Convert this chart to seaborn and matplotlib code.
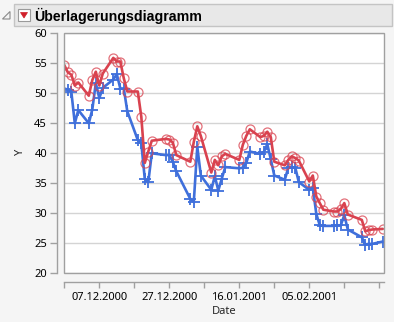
import matplotlib
matplotlib.use("Agg")
import matplotlib.pyplot as plt
from matplotlib.patches import Rectangle, Polygon
import pandas as pd
import seaborn as sns

# ---- data ----
dates = [
    "27.11.2000", "28.11.2000", "29.11.2000", "30.11.2000", "01.12.2000",
    "04.12.2000", "05.12.2000", "06.12.2000", "07.12.2000", "08.12.2000",
    "11.12.2000", "12.12.2000", "13.12.2000", "14.12.2000", "15.12.2000",
    "18.12.2000", "19.12.2000", "20.12.2000", "21.12.2000", "22.12.2000",
    "26.12.2000", "27.12.2000", "28.12.2000", "29.12.2000",
    "02.01.2001", "03.01.2001", "04.01.2001", "05.01.2001",
    "08.01.2001", "09.01.2001", "10.01.2001", "11.01.2001", "12.01.2001",
    "16.01.2001", "17.01.2001", "18.01.2001", "19.01.2001",
    "22.01.2001", "23.01.2001", "24.01.2001", "25.01.2001", "26.01.2001",
    "29.01.2001", "30.01.2001", "31.01.2001", "01.02.2001", "02.02.2001",
    "05.02.2001", "06.02.2001", "07.02.2001", "08.02.2001", "09.02.2001",
    "12.02.2001", "13.02.2001", "14.02.2001", "15.02.2001", "16.02.2001",
    "20.02.2001", "21.02.2001", "22.02.2001", "23.02.2001", "26.02.2001",
]
y_red = [
    54.7, 53.5, 53.1, 51.3, 51.8,
    49.6, 52.2, 53.6, 51.3, 53.3,
    55.9, 55.3, 55.3, 52.5, 50.3,
    50.3, 46.1, 38.4, 40.3, 42.1,
    42.4, 42.3, 41.8, 39.7,
    38.6, 41.9, 44.5, 42.9,
    36.8, 38.9, 38.0, 39.5, 39.9,
    38.9, 41.4, 42.9, 44.0,
    42.7, 42.9, 43.6, 42.7, 38.6,
    38.0, 38.9, 39.5, 39.2, 38.8,
    35.3, 36.3, 32.8, 31.7, 30.6,
    30.3, 30.3, 30.7, 31.7, 29.8,
    28.9, 27.0, 27.2, 27.3, 27.4,
]
y_blue = [
    50.8, 50.6, 50.3, 45.0, 47.2,
    45.0, 47.3, 51.7, 49.2, 50.9,
    52.3, 53.2, 50.8, 50.8, 47.0,
    42.2, 41.7, 35.7, 35.2, 40.0,
    39.7, 39.7, 38.6, 37.0,
    32.4, 31.9, 41.1, 36.3,
    33.9, 36.2, 33.8, 35.8, 37.7,
    37.5, 37.6, 38.4, 40.3,
    39.9, 40.2, 41.5, 39.0, 36.3,
    35.6, 37.6, 37.7, 37.6, 35.2,
    33.9, 34.3, 29.9, 28.0, 27.9,
    27.9, 28.0, 28.0, 29.7, 27.3,
    26.0, 24.8, 24.9, 24.9, 25.3,
]
y_ticks = [20, 25, 30, 35, 40, 45, 50, 55, 60]
x_tick_labels = ["07.12.2000", "27.12.2000", "16.01.2001", "05.02.2001"]

RED = "#D9424F"
BLUE = "#3F6FDB"
GRAY = "#A0A0A0"

sns.set_theme(style="white")
plt.rcParams["font.family"] = ["Noto Sans", "DejaVu Sans"]

W, H = 394, 322
fig = plt.figure(figsize=(W / 100, H / 100), dpi=100, facecolor="#F5F5F5")


def fx(px):
    return px / W


def fy(py):
    return 1 - py / H


# ---- header bar ----
fig.patches.append(Rectangle((fx(13.5), fy(26)), fx(391.5) - fx(13.5), fy(4) - fy(26),
                             transform=fig.transFigure, facecolor="#E8E8E8",
                             edgecolor="#C4C4C4", lw=1))
fig.patches.append(Polygon([(fx(2.5), fy(19)), (fx(10), fy(19)), (fx(10), fy(11.5))],
                           closed=True, transform=fig.transFigure, facecolor="none",
                           edgecolor="#8A8A8A", lw=0.8))
fig.patches.append(Rectangle((fx(18), fy(21)), fx(30) - fx(18), fy(9) - fy(21),
                             transform=fig.transFigure, facecolor="white",
                             edgecolor="#9A9A9A", lw=0.8))
fig.patches.append(Polygon([(fx(20.5), fy(12.5)), (fx(27.5), fy(12.5)), (fx(24), fy(18))],
                           closed=True, transform=fig.transFigure, facecolor="#D0202A",
                           edgecolor="#D0202A", lw=0.5))
fig.text(fx(34.5), fy(15.5), "Überlagerungsdiagramm", fontsize=10.2, fontweight="bold",
         family=["Liberation Sans", "DejaVu Sans"],
         ha="left", va="center", color="black")

# ---- plot ----
left, right, top, bottom = 64.3, 384.3, 33.3, 273.3
ax = fig.add_axes([fx(left), fy(bottom), (right - left) / W, (bottom - top) / H])
ax.set_facecolor("white")

df = pd.DataFrame({"Date": pd.to_datetime(dates, format="%d.%m.%Y"),
                   "Red": y_red, "Blue": y_blue})

sns.lineplot(data=df, x="Date", y="Blue", ax=ax, color=BLUE, lw=1.9,
             marker="+", markersize=8, markeredgewidth=1.3,
             markeredgecolor=BLUE, zorder=3)
sns.lineplot(data=df, x="Date", y="Red", ax=ax, color=RED, lw=1.9,
             marker="o", markersize=6.5, markerfacecolor="none",
             markeredgecolor=(0.85, 0.26, 0.31, 0.75), markeredgewidth=0.9, zorder=4)

start = pd.Timestamp("2000-11-27")
ax.set_xlim(start, start + pd.Timedelta(days=91.43))
ax.set_ylim(20, 60)
ax.set_yticks(y_ticks)

major = [pd.to_datetime(s, format="%d.%m.%Y") for s in x_tick_labels]
ax.set_xticks(major)
ax.set_xticklabels(x_tick_labels)
minor = [start + pd.Timedelta(days=d) for d in (0, 20, 40, 60, 80, 90)]
ax.set_xticks(minor, minor=True)

ax.yaxis.grid(True, color="#D4D4D4", lw=1)
ax.xaxis.grid(False)
ax.set_axisbelow(True)

for s in ("top", "right"):
    ax.spines[s].set_visible(False)
ax.spines["left"].set_position(("outward", 5.5))
ax.spines["bottom"].set_position(("outward", 6.5))
for s in ("left", "bottom"):
    ax.spines[s].set_color(GRAY)
    ax.spines[s].set_linewidth(1)

ax.add_patch(Rectangle((0, 0), 1, 1, transform=ax.transAxes, facecolor="none",
                       edgecolor=GRAY, lw=1, zorder=5, clip_on=False))

ax.tick_params(axis="y", which="both", direction="out", length=5, width=1,
               color=GRAY, labelsize=8, labelcolor="black", pad=2, left=True)
ax.tick_params(axis="x", which="both", direction="out", length=4, width=1,
               color=GRAY, labelsize=8, labelcolor="black", pad=3, bottom=True)

ax.set_ylabel("Y", fontsize=8, rotation=90)
ax.yaxis.set_label_coords(-0.12, 0.5)
ax.set_xlabel("Date", fontsize=8, va="top")
ax.xaxis.set_label_coords(0.5, -0.135)

fig.savefig("out.png", dpi=100, facecolor=fig.get_facecolor())
